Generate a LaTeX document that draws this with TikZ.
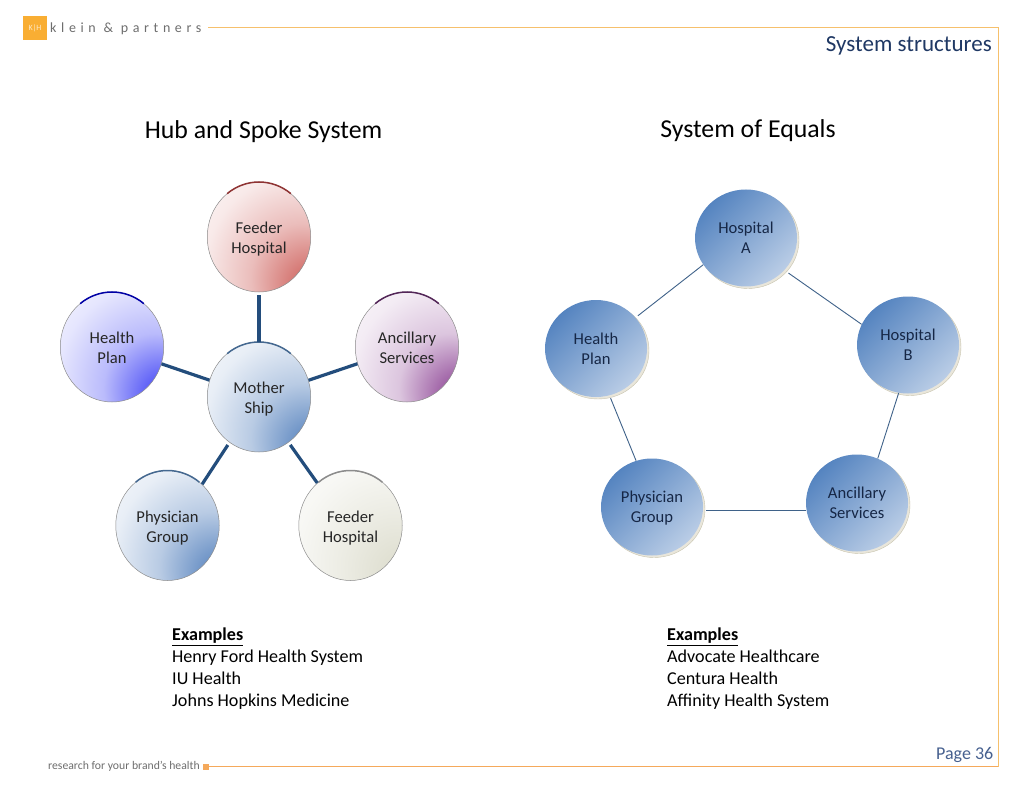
\documentclass[tikz,border=0pt]{standalone}
\usepackage{fontspec}
\setmainfont{Carlito}
\usetikzlibrary{shapes.geometric}
\definecolor{frameorange}{HTML}{F6C06C}
\definecolor{footorange}{HTML}{F5A95B}
\definecolor{logoorange}{HTML}{F9AE33}
\definecolor{navy}{HTML}{1F3864}
\definecolor{pageblue}{HTML}{46608F}
\definecolor{graytext}{HTML}{6E6E6E}
\definecolor{spoke}{HTML}{234D7C}
\definecolor{thinline}{HTML}{3F6289}
\definecolor{shadowc}{HTML}{E9E6DB}
\definecolor{shadowd}{HTML}{C8C4AE}
\definecolor{eqdark}{HTML}{5584C0}
\definecolor{eqlight}{HTML}{BACDE6}
\definecolor{redc}{HTML}{CC5A55}
\definecolor{bluec}{HTML}{3A3DF5}
\definecolor{purpc}{HTML}{8A3F92}
\definecolor{steelc}{HTML}{4F7DBB}
\definecolor{creamc}{HTML}{D9D9C8}
\pgfdeclareradialshading{hubred}{\pgfpoint{28bp}{-25bp}}{color(0bp)=(redc);color(8bp)=(redc!85!white);color(25bp)=(redc!40!white);color(42bp)=(redc!13!white);color(58bp)=(redc!3!white);color(72bp)=(white);color(100bp)=(white)}
\pgfdeclareradialshading{hubblue}{\pgfpoint{28bp}{-25bp}}{color(0bp)=(bluec);color(8bp)=(bluec!85!white);color(25bp)=(bluec!35!white);color(42bp)=(bluec!13!white);color(58bp)=(bluec!3!white);color(72bp)=(white);color(100bp)=(white)}
\pgfdeclareradialshading{hubpurp}{\pgfpoint{28bp}{-25bp}}{color(0bp)=(purpc);color(8bp)=(purpc!85!white);color(25bp)=(purpc!30!white);color(42bp)=(purpc!10!white);color(58bp)=(purpc!3!white);color(72bp)=(white);color(100bp)=(white)}
\pgfdeclareradialshading{hubsteel}{\pgfpoint{28bp}{-25bp}}{color(0bp)=(steelc);color(8bp)=(steelc!85!white);color(25bp)=(steelc!40!white);color(42bp)=(steelc!13!white);color(58bp)=(steelc!3!white);color(72bp)=(white);color(100bp)=(white)}
\pgfdeclareradialshading{hubcream}{\pgfpoint{28bp}{-25bp}}{color(0bp)=(creamc);color(25bp)=(creamc!50!white);color(42bp)=(creamc!20!white);color(58bp)=(creamc!6!white);color(72bp)=(white);color(100bp)=(white)}
\tikzset{
  x=1pt,y=-1pt,
  hubnode/.style={ellipse,draw=black!45,line width=0.5pt,minimum width=103.5pt,minimum height=110pt,inner sep=0pt,align=center,shading=#1},
  eqnode/.style={ellipse,draw=none,minimum width=102pt,minimum height=97pt,inner sep=0pt,align=center,shading=axis,left color=eqdark,right color=eqlight,shading angle=45},
  eqshadow/.style={ellipse,draw=shadowd,fill=shadowc,line width=0.4pt,minimum width=102pt,minimum height=97pt,inner sep=0pt},
  label1/.style={font=\fontsize{16.6}{20}\selectfont,text depth=0pt,align=center},
  hubtext/.style={label1,text=black!85,yshift=-1pt},
  eqtext/.style={label1,text=navy!70!black},
  rimline/.style={line width=1.5pt},
  spokeline/.style={draw=spoke,line width=3.2pt},
  ringline/.style={draw=thinline,line width=0.9pt},
  heading/.style={font=\fontsize{25.8}{30}\selectfont,text=black},
  listing/.style={align=left,anchor=north west,inner sep=0pt,font=\fontsize{18.1}{21.9}\selectfont,text=black},
  framestyle/.style={draw=frameorange,line width=1pt}
}
\newcommand{\rimarc}[2]{\draw[rimline,draw=#2] ([shift={(-128:51.75 and 55)}]#1.center) arc[start angle=-128,end angle=-52,x radius=51.75,y radius=55];}
\begin{document}
\begin{tikzpicture}
\useasboundingbox (0,0) rectangle (1024,791);
\fill[white] (0,0) rectangle (1024,791);

% frame
\coordinate (ftl) at (208,28);
\coordinate (ftr) at (998,28);
\coordinate (fbr) at (998,766.5);
\node[fill=footorange,minimum size=6pt,inner sep=0pt] (sq) at (205.5,766.5) {};
\draw[framestyle] (ftl) -- (ftr) -- (fbr);
\draw[draw=footorange,line width=1pt] (fbr) -- (sq);

% logo and header/footer text
\node[fill=logoorange,minimum size=24pt,inner sep=0pt,text=white!75!logoorange,font=\fontsize{8}{8}\selectfont] (logo) at (35,28) {K|H};
\node[anchor=west,inner sep=0pt,text=graytext,font=\fontsize{14}{15}\selectfont\addfontfeatures{LetterSpace=33}] (brand) at (50,28.5) {klein \& partners};
\node[anchor=east,inner sep=0pt,text=navy,font=\fontsize{23}{27}\selectfont] (title) at (992,46) {System structures};
\node[anchor=east,inner sep=0pt,text=pageblue,font=\fontsize{18}{20}\selectfont] (page) at (993.5,754.5) {Page 36};
\node[anchor=west,inner sep=0pt,text=graytext,font=\fontsize{11.7}{14}\selectfont] (foot) at (48,766) {research for your brand’s health};

% headings
\node[heading] (h1) at (263.5,132) {Hub and Spoke System};
\node[heading] (h2) at (748,131) {System of Equals};

% hub and spoke
\node[hubnode=hubred] (feedA) at (259,237) {};
\node[hubnode=hubblue] (planA) at (112,347) {};
\node[hubnode=hubpurp] (ancA) at (407,347) {};
\node[hubnode=hubsteel] (mother) at (259,397) {};
\node[hubnode=hubsteel] (physA) at (167.5,525.5) {};
\node[hubnode=hubcream] (feedB) at (350.5,525.5) {};
\node[hubtext] at (feedA) {Feeder\\Hospital};
\node[hubtext] at (planA) {Health\\Plan};
\node[hubtext] at (ancA) {Ancillary\\Services};
\node[hubtext] at (mother) {Mother\\Ship};
\node[hubtext] at (physA) {Physician\\Group};
\node[hubtext] at (feedB) {Feeder\\Hospital};

\rimarc{feedA}{red!45!black!80!white}
\rimarc{planA}{blue!65!black}
\rimarc{ancA}{purpc!60!black}
\rimarc{mother}{spoke!85!white}
\rimarc{physA}{spoke!85!white}
\rimarc{feedB}{black!45}

\draw[spokeline,shorten <=3pt] (feedA) -- (mother);
\draw[spokeline] (planA) -- (mother);
\draw[spokeline] (ancA) -- (mother);
\draw[spokeline,shorten >=3pt] (physA.50) -- (mother.237);
\draw[spokeline,shorten >=3pt] (feedB.128) -- (mother.-57);

% system of equals
\node[eqshadow] at (748,240) {};
\node[eqshadow] at (910,347) {};
\node[eqshadow] at (598,350.5) {};
\node[eqshadow] at (654,509) {};
\node[eqshadow] at (859,505) {};
\node[eqnode] (hospA) at (746,238) {};
\node[eqnode] (hospB) at (908,345) {};
\node[eqnode] (planB) at (596,348.5) {};
\node[eqnode] (physB) at (652,507) {};
\node[eqnode] (ancB) at (857,503) {};
\node[eqtext] at (hospA) {Hospital\\A};
\node[eqtext] at (hospB) {Hospital\\B};
\node[eqtext] at (planB) {Health\\Plan};
\node[eqtext] at (physB) {Physician\\Group};
\node[eqtext] at (ancB) {Ancillary\\Services};

\draw[ringline,shorten <=5pt] (hospA.-40) -- (hospB.156);
\draw[ringline,shorten >=3pt] (hospA.212) -- (planB.38);
\draw[ringline,shorten <=3pt] (planB.-74) -- (physB.109);
\draw[ringline,shorten <=3pt] (physB.-4.5) -- (physB.-4.5 -| ancB.west);
\draw[ringline] (ancB.65) -- (hospB.259);

% examples
\node[listing] (ex1) at (172,628) {\textbf{\underline{Examples}}\\Henry Ford Health System\\IU Health\\Johns Hopkins Medicine};
\node[listing] (ex2) at (667,628) {\textbf{\underline{Examples}}\\Advocate Healthcare\\Centura Health\\Affinity Health System};
\end{tikzpicture}
\end{document}
